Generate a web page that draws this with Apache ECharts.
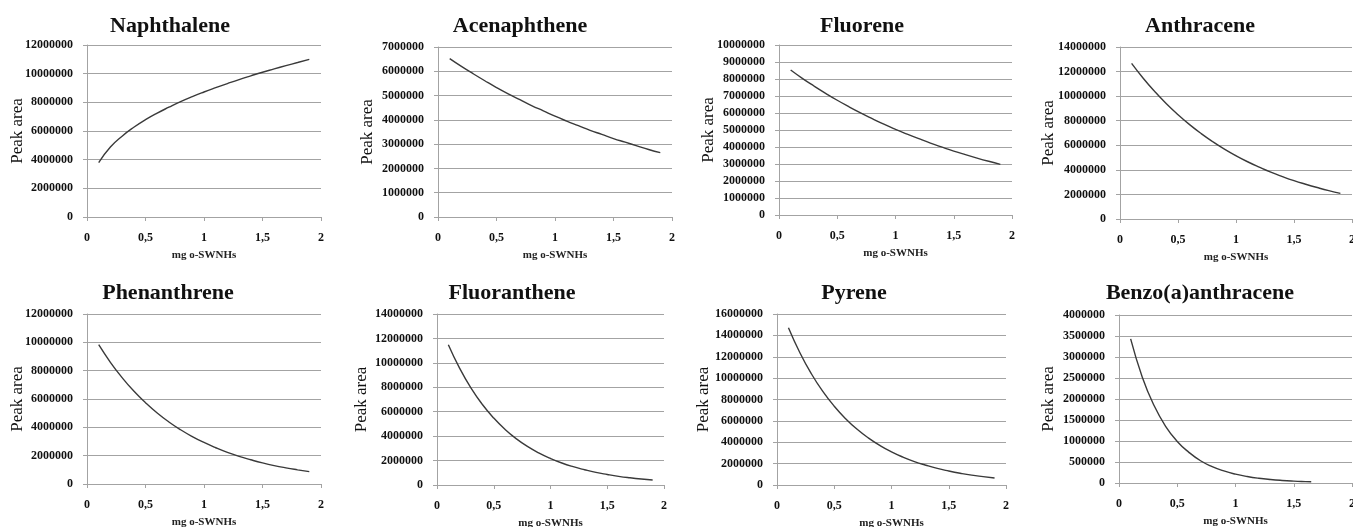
<!DOCTYPE html>
<html>
<head>
<meta charset="utf-8">
<script src="https://cdn.jsdelivr.net/npm/echarts@6/dist/echarts.min.js"></script>
<style>
  html, body { margin: 0; padding: 0; background: #fff; }
  #chart { width: 1353px; height: 527px; }
</style>
</head>
<body>
<div id="chart"></div>
<script>
// x = mg o-SWNHs
const xVals = [0.1, 0.2, 0.3, 0.4, 0.5, 0.6, 0.7, 0.8, 0.9, 1.0, 1.1, 1.2, 1.3, 1.4, 1.5, 1.6, 1.7, 1.8, 1.9];
const xValsBenzo = [0.1, 0.2, 0.3, 0.4, 0.5, 0.6, 0.7, 0.8, 0.9, 1.0, 1.1, 1.2, 1.3, 1.4, 1.5, 1.6, 1.65];

// peak areas
const naphthalene = [3800000, 4880000, 5640000, 6260000, 6790000, 7250000, 7660000, 8050000, 8400000, 8720000, 9020000, 9310000, 9590000, 9850000, 10100000, 10330000, 10560000, 10780000, 11000000];
const acenaphthene = [6520000, 6200000, 5900000, 5610000, 5330000, 5070000, 4830000, 4590000, 4370000, 4150000, 3950000, 3760000, 3570000, 3400000, 3230000, 3080000, 2930000, 2780000, 2650000];
const fluorene = [8530000, 8040000, 7590000, 7160000, 6750000, 6370000, 6010000, 5670000, 5340000, 5040000, 4760000, 4490000, 4230000, 3990000, 3760000, 3550000, 3350000, 3160000, 2980000];
const anthracene = [12670000, 11460000, 10370000, 9380000, 8490000, 7680000, 6950000, 6290000, 5690000, 5150000, 4660000, 4220000, 3810000, 3450000, 3120000, 2830000, 2560000, 2310000, 2090000];
const phenanthrene = [9830000, 8590000, 7510000, 6560000, 5740000, 5010000, 4380000, 3830000, 3350000, 2930000, 2560000, 2230000, 1950000, 1710000, 1490000, 1300000, 1140000, 1000000, 870000];
const fluoranthene = [11490000, 9550000, 7930000, 6590000, 5480000, 4550000, 3780000, 3140000, 2610000, 2170000, 1800000, 1500000, 1250000, 1030000, 860000, 710000, 590000, 490000, 410000];
const pyrene = [14720000, 12380000, 10410000, 8760000, 7370000, 6200000, 5210000, 4390000, 3690000, 3100000, 2610000, 2190000, 1850000, 1550000, 1310000, 1100000, 920000, 780000, 650000];
const benzoAnthracene = [3430000, 2520000, 1850000, 1350000, 990000, 730000, 530000, 390000, 287000, 211000, 155000, 113000, 83000, 61000, 45000, 33000, 28000];

const titles = ['Naphthalene', 'Acenaphthene', 'Fluorene', 'Anthracene', 'Phenanthrene', 'Fluoranthene', 'Pyrene', 'Benzo(a)anthracene'];
const yMax = [12000000, 7000000, 10000000, 14000000, 12000000, 14000000, 16000000, 4000000];
const yStep = [2000000, 1000000, 1000000, 2000000, 2000000, 2000000, 2000000, 500000];
const xTickLabels = { 0: '0', 0.5: '0,5', 1: '1', 1.5: '1,5', 2: '2' };

const panels = [
  { x: xVals, y: naphthalene },
  { x: xVals, y: acenaphthene },
  { x: xVals, y: fluorene },
  { x: xVals, y: anthracene },
  { x: xVals, y: phenanthrene },
  { x: xVals, y: fluoranthene },
  { x: xVals, y: pyrene },
  { x: xValsBenzo, y: benzoAnthracene },
];

// plot boxes [left, top, width, height]
const boxes = [
  [87, 45, 234, 172], [438, 47, 234, 170], [779, 45, 233, 170], [1120, 47, 232, 172],
  [87, 314, 234, 170], [437, 314, 227, 171], [777, 314, 229, 171], [1119, 315, 233, 168],
];
const titleX = [170, 520, 862, 1200, 168, 512, 854, 1200];
const nameGaps = [61, 62, 62, 63, 61, 67, 65, 62];

const serif = 'Liberation Serif, Times New Roman, serif';
const gridColor = '#a3a3a3';

const chart = echarts.init(document.getElementById('chart'));
const option = {
  animation: false,
  backgroundColor: '#fff',
  title: titles.map((t, i) => ({
    text: t,
    left: titleX[i],
    top: i < 4 ? 15 : 282,
    textAlign: 'center',
    padding: 0,
    textStyle: { fontFamily: serif, fontWeight: 'bold', fontSize: 22, color: '#111' },
  })),
  grid: boxes.map(b => ({ left: b[0], top: b[1], width: b[2], height: b[3], containLabel: false, outerBoundsMode: 'none' })),
  xAxis: boxes.map((b, i) => ({
    type: 'value',
    gridIndex: i,
    min: 0,
    max: 2,
    interval: 0.5,
    name: 'mg o-SWNHs',
    nameLocation: 'middle',
    nameGap: 33,
    nameMoveOverlap: false,
    nameTextStyle: { fontFamily: serif, fontSize: 11, fontWeight: 'bold', color: '#222' },
    axisLine: { show: true, lineStyle: { color: gridColor, width: 1 } },
    axisTick: { show: true, length: 4, lineStyle: { color: gridColor } },
    axisLabel: {
      margin: 15,
      fontFamily: serif, fontSize: 12, fontWeight: 'bold', color: '#111',
      formatter: v => xTickLabels[v] !== undefined ? xTickLabels[v] : '',
    },
    splitLine: { show: false },
  })),
  yAxis: boxes.map((b, i) => ({
    type: 'value',
    gridIndex: i,
    min: 0,
    max: yMax[i],
    interval: yStep[i],
    name: 'Peak area',
    nameLocation: 'middle',
    nameGap: nameGaps[i],
    nameMoveOverlap: false,
    nameTextStyle: { fontFamily: serif, fontSize: 17, color: '#111' },
    axisLine: { show: true, lineStyle: { color: gridColor, width: 1 } },
    axisTick: { show: true, length: 4, lineStyle: { color: gridColor } },
    axisLabel: { margin: 14, fontFamily: serif, fontSize: 12, fontWeight: 'bold', color: '#111', formatter: v => String(v) },
    splitLine: { show: true, lineStyle: { color: gridColor, width: 1 } },
  })),
  series: panels.map((p, i) => ({
    type: 'line',
    xAxisIndex: i,
    yAxisIndex: i,
    data: p.x.map((x, k) => [x, p.y[k]]),
    smooth: true,
    showSymbol: false,
    lineStyle: { color: '#3a3a3a', width: 1.4 },
  })),
};
chart.setOption(option);
</script>
</body>
</html>
